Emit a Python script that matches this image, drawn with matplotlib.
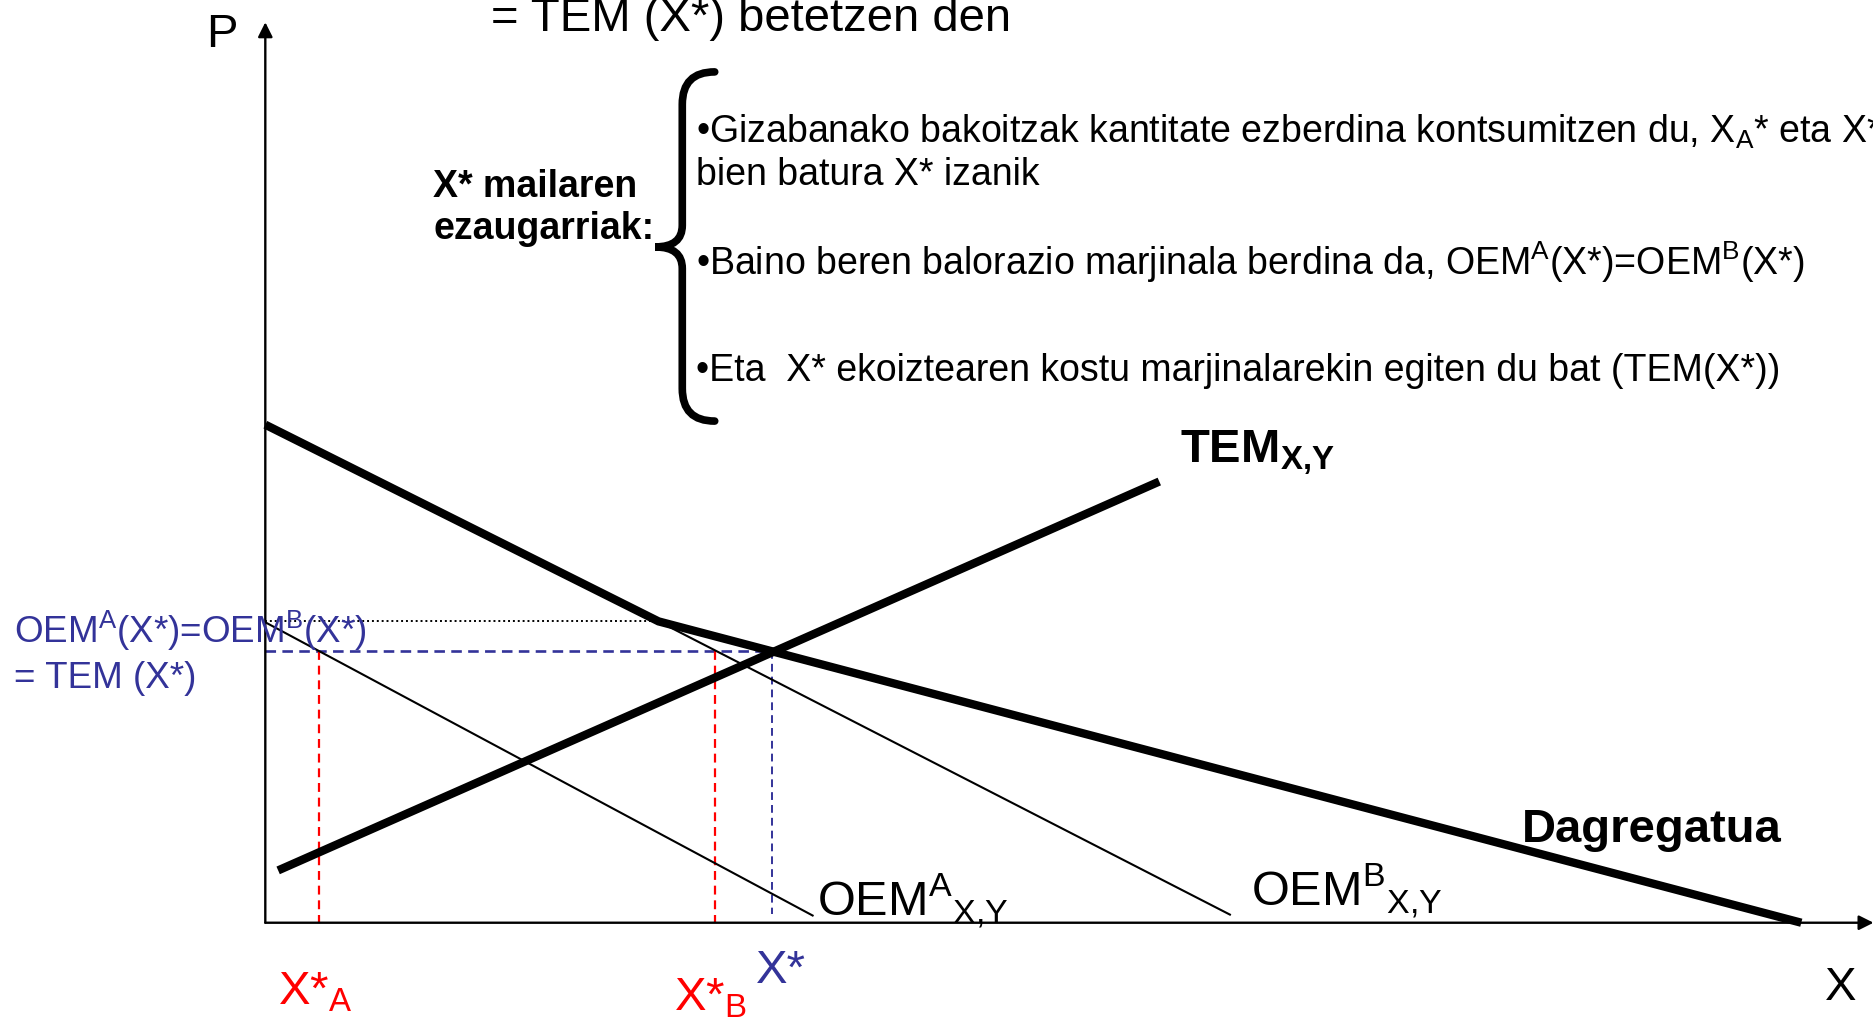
import matplotlib
matplotlib.use("Agg")
import matplotlib.pyplot as plt
from matplotlib.path import Path
from matplotlib.patches import PathPatch

plt.rcParams["font.family"] = ["Liberation Sans", "DejaVu Sans"]
plt.rcParams["mathtext.fontset"] = "custom"
plt.rcParams["mathtext.rm"] = "Liberation Sans"
plt.rcParams["mathtext.bf"] = "Liberation Sans:bold"

BLUE = "#333399"
RED = "#ff0000"

# -------- data (quantity X, price P) --------
# aggregated demand: vertical intercept, kink, quantity intercept
dagr_x = [0.0, 24.5, 95.7]
dagr_p = [55.2, 33.4, 0.0]
# marginal cost of production
tem_x = [0.8, 55.7]
tem_p = [5.8, 48.9]
# individual marginal valuations
oem_a_x = [0.0, 34.1]
oem_a_p = [33.3, 0.8]
oem_b_x = [24.5, 60.1]
oem_b_p = [33.4, 0.9]
# equilibrium
x_star = 31.6
p_star = 30.1
x_star_a = 3.35
x_star_b = 28.0

bullets = [
    "•Gizabanako bakoitzak kantitate ezberdina kontsumitzen du, X$_\\mathregular{A}$* eta X*$_\\mathregular{B}$",
    "bien batura X* izanik",
    "•Baino beren balorazio marjinala berdina da, OEM$^\\mathregular{A}$(X*)=OEM$^\\mathregular{B}$(X*)",
    "•Eta  X* ekoiztearen kostu marjinalarekin egiten du bat (TEM(X*))",
]
bullet_y = [86.6, 81.9, 71.9, 60.1]

SUB_XY = "$_\\mathregular{X{,}Y}$"


def brace(ax, x_stem, x_end, x_tip, y_top, y_bot, y_mid, r=3.6, r2=2.4, **kw):
    # left curly brace drawn as one stroked path
    verts = [
        (x_end, y_top),
        (x_stem, y_top), (x_stem, y_top - r),
        (x_stem, y_mid + r2),
        (x_stem, y_mid), (x_tip, y_mid),
        (x_stem, y_mid), (x_stem, y_mid - r2),
        (x_stem, y_bot + r),
        (x_stem, y_bot), (x_end, y_bot),
    ]
    codes = [Path.MOVETO,
             Path.CURVE3, Path.CURVE3,
             Path.LINETO,
             Path.CURVE3, Path.CURVE3,
             Path.CURVE3, Path.CURVE3,
             Path.LINETO,
             Path.CURVE3, Path.CURVE3]
    ax.add_patch(PathPatch(Path(verts, codes), fill=False, **kw))


fig = plt.figure(figsize=(18.74, 10.2), dpi=100)
ax = fig.add_axes([0, 0, 1, 1])
ax.set_xlim(-16.53, 100.23)
ax.set_ylim(-10.67, 102.38)
ax.axis("off")

# axes with arrow heads
arrow = dict(arrowstyle="-|>", lw=1.7, color="black", mutation_scale=22,
             shrinkA=0, shrinkB=0)
ax.annotate("", xy=(0, 99.8), xytext=(0, 0), arrowprops=arrow)
ax.annotate("", xy=(100.2, 0), xytext=(0, 0), arrowprops=arrow)

# guide lines at the equilibrium
kink_x, kink_p = dagr_x[1], dagr_p[1]
ax.plot([0, kink_x], [kink_p, kink_p], color="black", lw=1.4,
        linestyle=(0, (1, 1.5)))
ax.plot([0, x_star], [p_star, p_star], color=BLUE, lw=1.9,
        linestyle=(0, (4, 2.4)))
ax.plot([x_star, x_star], [p_star, 1.0], color=BLUE, lw=1.4,
        linestyle=(0, (4, 2.6)))
for xv in (x_star_a, x_star_b):
    ax.plot([xv, xv], [p_star, 0], color=RED, lw=1.6,
            linestyle=(0, (4, 2.6)))

# curves
ax.plot(oem_a_x, oem_a_p, color="black", lw=1.5)
ax.plot(oem_b_x, oem_b_p, color="black", lw=1.5)
ax.plot(tem_x, tem_p, color="black", lw=6, solid_capstyle="butt")
ax.plot(dagr_x, dagr_p, color="black", lw=6, solid_capstyle="butt",
        solid_joinstyle="miter")

# text block at the top
ax.text(14.06, 98.9, "= TEM (X*) betetzen den", fontsize=34, va="baseline")
ax.text(10.45, 80.5, "X* mailaren", fontsize=27, fontweight="bold", va="baseline")
ax.text(10.45, 75.9, "ezaugarriak:", fontsize=27, fontweight="bold", va="baseline")
brace(ax, x_stem=25.98, x_end=28.0, x_tip=24.3, y_top=94.3, y_bot=55.6,
      y_mid=74.9, lw=5.5, color="black", capstyle="round")
for s, yb in zip(bullets, bullet_y):
    ax.text(26.83, yb, s, fontsize=27, va="baseline")

# curve labels
ax.text(57.0, 51.1, "TEM" + SUB_XY, fontsize=34, fontweight="bold",
        va="baseline")
ax.text(78.3, 9.1, "Dagregatua", fontsize=34, fontweight="bold", va="baseline")
ax.text(34.36, 0.9, "OEM$^\\mathregular{A}$" + SUB_XY, fontsize=35,
        va="baseline")
ax.text(61.4, 2.0, "OEM$^\\mathregular{B}$" + SUB_XY, fontsize=35,
        va="baseline")

# price level label
ax.text(-15.64, 31.1, "OEM$^\\mathregular{A}$(X*)=OEM$^\\mathregular{B}$(X*)",
        fontsize=26.5, color=BLUE, va="baseline")
ax.text(-15.64, 26.1, "= TEM (X*)", fontsize=26.5, color=BLUE, va="baseline")

# quantity labels
ax.text(0.76, -8.9, "X*$_\\mathregular{A}$", fontsize=34, color=RED, va="baseline")
ax.text(25.44, -9.6, "X*$_\\mathregular{B}$", fontsize=34, color=RED, va="baseline")
ax.text(30.56, -6.6, "X*", fontsize=34, color=BLUE, va="baseline")

# axis names
ax.text(-3.7, 97.2, "P", fontsize=34, va="baseline")
ax.text(97.16, -8.5, "X", fontsize=34, va="baseline")

fig.savefig("out.png", dpi=100)
plt.close(fig)
